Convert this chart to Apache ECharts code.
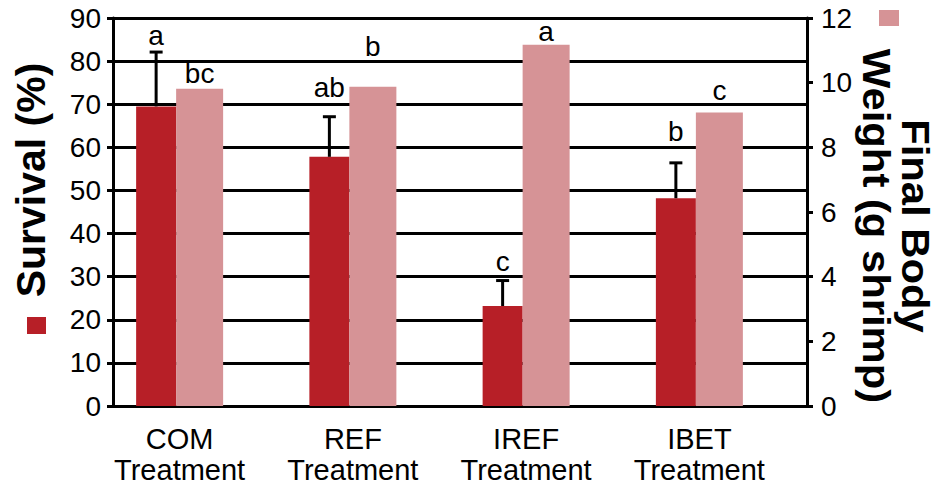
<!DOCTYPE html>
<html>
<head>
<meta charset="utf-8">
<script src="https://cdn.jsdelivr.net/npm/echarts@6/dist/echarts.min.js"></script>
<style>
html,body{margin:0;padding:0;background:#fff;}
#chart{width:936px;height:491px;}
</style>
</head>
<body>
<div id="chart"></div>
<script>
// ---- data ----
const categories = ['COM\nTreatment', 'REF\nTreatment', 'IREF\nTreatment', 'IBET\nTreatment'];
const survival = [69.5, 57.8, 23.2, 48.2];
const survivalErr = [12.6, 9.3, 5.9, 8.2];
const bodyWeight = [9.81, 9.87, 11.17, 9.08];
const survivalLetters = ['a', 'ab', 'c', 'b'];
const weightLetters = ['bc', 'b', 'a', 'c'];
const leftAxis = { min: 0, max: 90, interval: 10 };
const rightAxis = { min: 0, max: 12, interval: 2 };

// ---- styles ----
const DARK = '#B71F27';
const PINK = '#D69396';
const DARK_W = 40, LIGHT_W = 47;
const FONT = '"Liberation Sans", Arial, Helvetica, sans-serif';
const darkLetterGap = [3, 15, 5, 17];
const lightLetterGap = [1, 26, -1, 8];
const LINE_W = 3;

const chart = echarts.init(document.getElementById('chart'), null, { renderer: 'svg' });

const darkOffset = -(DARK_W + LIGHT_W) / 2 + DARK_W / 2;

const option = {
  animation: false,
  backgroundColor: '#fff',
  grid: [
    { left: 113, right: 129, top: 18, bottom: 85 },
    { left: 93, width: 693, top: 18, bottom: 85 }
  ],
  legend: [
    { data: ['Survival (%)'], left: 27, top: 317, icon: 'rect', itemWidth: 19, itemHeight: 17,
      formatter: () => '', selectedMode: false, padding: 0, itemGap: 0 },
    { data: ['Final Body Weight'], left: 879, top: 10, icon: 'rect', itemWidth: 20, itemHeight: 16,
      formatter: () => '', selectedMode: false, padding: 0, itemGap: 0 }
  ],
  xAxis: [
    { gridIndex: 0, type: 'category', data: categories,
      axisLine: { show: true, lineStyle: { color: '#000', width: LINE_W } },
      axisTick: { show: false }, axisLabel: { show: false }, splitLine: { show: false } },
    { gridIndex: 1, type: 'category', data: categories,
      axisLine: { show: false }, axisTick: { show: false }, splitLine: { show: false },
      axisLabel: { show: true, interval: 0, hideOverlap: false, color: '#000', fontFamily: FONT, fontSize: 29, lineHeight: 31, margin: 17 } }
  ],
  yAxis: [
    { gridIndex: 0, type: 'value', position: 'left', min: leftAxis.min, max: leftAxis.max, interval: leftAxis.interval,
      axisLine: { show: true, lineStyle: { color: '#000', width: LINE_W } },
      axisTick: { show: true, length: 6, lineStyle: { color: '#000', width: LINE_W } },
      splitLine: { show: true, lineStyle: { color: '#000', width: LINE_W } },
      axisLabel: { color: '#000', fontFamily: FONT, fontSize: 28, margin: 12 } },
    { gridIndex: 0, type: 'value', position: 'right', min: rightAxis.min, max: rightAxis.max, interval: rightAxis.interval,
      axisLine: { show: true, lineStyle: { color: '#000', width: LINE_W } },
      axisTick: { show: true, length: 6, lineStyle: { color: '#000', width: LINE_W } },
      splitLine: { show: false },
      axisLabel: { color: '#000', fontFamily: FONT, fontSize: 28, margin: 14 } },
    { gridIndex: 1, type: 'value', min: leftAxis.min, max: leftAxis.max, show: false, splitLine: { show: false } },
    { gridIndex: 1, type: 'value', min: rightAxis.min, max: rightAxis.max, show: false, splitLine: { show: false } }
  ],
  graphic: [
    { type: 'text', x: 31, y: 180, rotation: Math.PI / 2,
      style: { text: 'Survival (%)', font: 'bold 41px ' + FONT, fill: '#000', align: 'center', verticalAlign: 'middle' } },
    { type: 'text', x: 896, y: 226, rotation: -Math.PI / 2, scaleX: 1.1,
      style: { text: 'Final Body\nWeight (g shrimp)', font: 'bold 38px ' + FONT, fill: '#000', align: 'center', verticalAlign: 'middle', lineHeight: 39 } }
  ],
  series: [
    { name: 'Survival (%)', type: 'bar', xAxisIndex: 1, yAxisIndex: 2, barWidth: DARK_W, barGap: '0%',
      itemStyle: { color: DARK }, data: survival, z: 2 },
    { name: 'Final Body Weight', type: 'bar', xAxisIndex: 1, yAxisIndex: 3, barWidth: LIGHT_W, barGap: '0%',
      itemStyle: { color: PINK }, z: 2,
      data: bodyWeight.map((v, i) => ({
        value: v,
        label: { show: true, position: 'top', distance: lightLetterGap[i],
          formatter: weightLetters[i], color: '#000', fontFamily: FONT, fontSize: 28 }
      })) },
    { name: 'err', type: 'custom', xAxisIndex: 1, yAxisIndex: 2, z: 3,
      data: survival.map((v, i) => [i, v, survivalErr[i]]),
      renderItem: function (params, api) {
        const i = api.value(0), v = api.value(1), e = api.value(2);
        const base = api.coord([i, v]);
        const top = api.coord([i, v + e]);
        const x = base[0] + darkOffset;
        const cap = 6.5;
        return {
          type: 'group',
          children: [
            { type: 'line', shape: { x1: x, y1: base[1], x2: x, y2: top[1] }, style: { stroke: '#000', lineWidth: 3 } },
            { type: 'line', shape: { x1: x - cap, y1: top[1], x2: x + cap, y2: top[1] }, style: { stroke: '#000', lineWidth: 3 } },
            { type: 'text', style: { text: survivalLetters[params.dataIndex], x: x, y: top[1] - darkLetterGap[params.dataIndex],
                align: 'center', verticalAlign: 'bottom', fill: '#000', fontFamily: FONT, fontSize: 28 } }
          ]
        };
      }
    }
  ]
};
chart.setOption(option);
</script>
</body>
</html>
